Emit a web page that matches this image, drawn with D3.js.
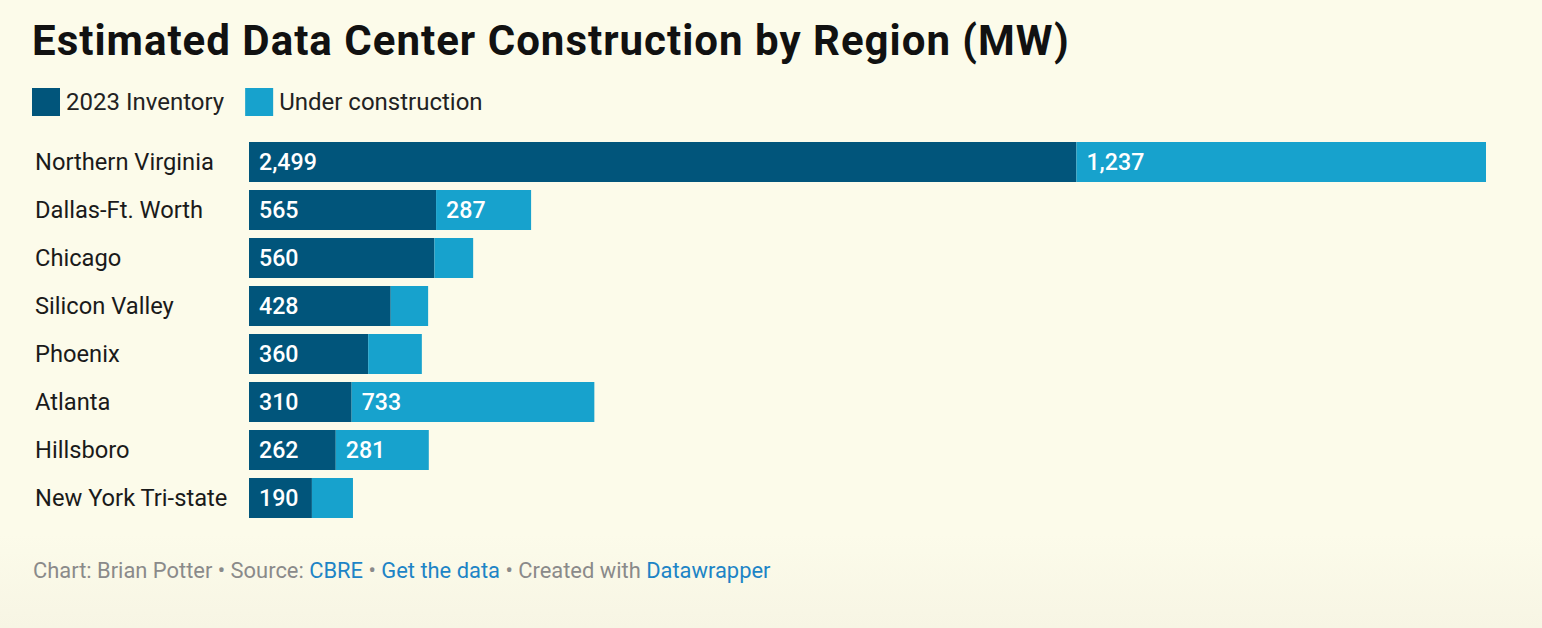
<!DOCTYPE html>
<html>
<head>
<meta charset="utf-8">
<script src="https://cdn.jsdelivr.net/npm/d3@7"></script>
<style>
  html, body { margin: 0; padding: 0; background: #fcfbea; }
  svg { display: block; font-family: Roboto, sans-serif; }
</style>
</head>
<body>
<div id="chart"></div>
<script>
const regions = ["Northern Virginia", "Dallas-Ft. Worth", "Chicago", "Silicon Valley",
                 "Phoenix", "Atlanta", "Hillsboro", "New York Tri-state"];
const inventory = [2499, 565, 560, 428, 360, 310, 262, 190];
const construction = [1237, 287, 117, 113, 162, 733, 281, 124];
const seriesNames = ["2023 Inventory", "Under construction"];
const seriesColors = ["#01557b", "#17a2cd"];

const width = 1542, height = 628;

const svg = d3.select("#chart").append("svg")
    .attr("width", width)
    .attr("height", height);

const defs = svg.append("defs");
const grad = defs.append("linearGradient")
    .attr("id", "bg").attr("x1", 0).attr("x2", 0).attr("y1", 0).attr("y2", 1);
grad.append("stop").attr("offset", "0.85").attr("stop-color", "#fcfbea");
grad.append("stop").attr("offset", "1").attr("stop-color", "#f7f5e4");
svg.append("rect").attr("width", width).attr("height", height).attr("fill", "url(#bg)");

// title
svg.append("text")
    .attr("x", 32).attr("y", 55)
    .attr("font-size", 42).attr("font-weight", 700).attr("fill", "#111")
    .attr("letter-spacing", 1)
    .text("Estimated Data Center Construction by Region (MW)");

// legend
const legend = svg.append("g");
let lx = 32;
seriesNames.forEach((name, i) => {
    legend.append("rect")
        .attr("x", lx).attr("y", 88).attr("width", 28).attr("height", 28)
        .attr("fill", seriesColors[i]);
    const t = legend.append("text")
        .attr("x", lx + 34).attr("y", 102).attr("dy", "0.35em")
        .attr("font-size", 24).attr("fill", "#222")
        .text(name);
    lx += 34 + t.node().getComputedTextLength() + 21;
});

const data = regions.map((r, i) => ({region: r, inv: inventory[i], con: construction[i]}));

const x = d3.scaleLinear()
    .domain([0, d3.max(data, d => d.inv + d.con)])
    .range([249, 1486]);

const y = d3.scaleBand()
    .domain(regions)
    .range([142, 518])
    .paddingInner(1 / 6)
    .paddingOuter(0);

const fmt = d3.format(",");

const row = svg.append("g").selectAll("g")
    .data(data)
    .join("g")
    .attr("transform", d => `translate(0,${y(d.region)})`);

row.append("text")
    .attr("x", 35).attr("y", y.bandwidth() / 2).attr("dy", "0.35em")
    .attr("font-size", 23.7).attr("fill", "#1a1a1a")
    .text(d => d.region);

row.append("rect")
    .attr("x", x(0)).attr("width", d => x(d.inv) - x(0))
    .attr("height", y.bandwidth())
    .attr("fill", seriesColors[0]);

row.append("rect")
    .attr("x", d => x(d.inv)).attr("width", d => x(d.inv + d.con) - x(d.inv))
    .attr("height", y.bandwidth())
    .attr("fill", seriesColors[1]);

row.append("text")
    .attr("x", x(0) + 10).attr("y", y.bandwidth() / 2).attr("dy", "0.35em")
    .attr("font-size", 23.2).attr("font-weight", 500).attr("fill", "#fff")
    .text(d => fmt(d.inv));

row.filter(d => x(d.inv + d.con) - x(d.inv) > 70)
    .append("text")
    .attr("x", d => x(d.inv) + 10).attr("y", y.bandwidth() / 2).attr("dy", "0.35em")
    .attr("font-size", 23.2).attr("font-weight", 500).attr("fill", "#fff")
    .text(d => fmt(d.con));

// footer
const foot = svg.append("text")
    .attr("x", 33).attr("y", 578)
    .attr("font-size", 21.9).attr("fill", "#8a8a8a");
const parts = [
    ["Chart: Brian Potter • Source: ", false],
    ["CBRE", true],
    [" • ", false],
    ["Get the data", true],
    [" • Created with ", false],
    ["Datawrapper", true]
];
parts.forEach(([t, link]) => {
    foot.append("tspan").attr("fill", link ? "#1d84c6" : "#8a8a8a").text(t);
});
</script>
</body>
</html>
